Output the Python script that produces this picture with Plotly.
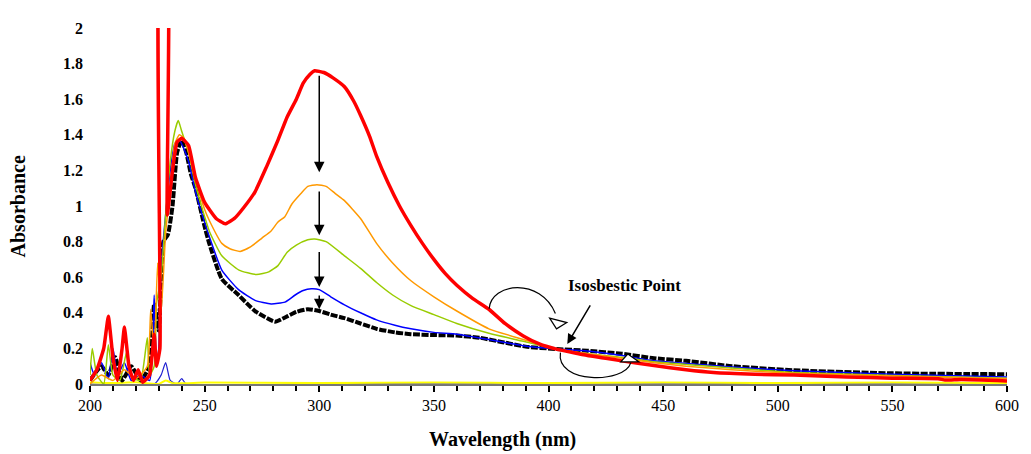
import plotly.graph_objects as go

# ---------------- data (wavelength nm, absorbance) ----------------
red_wl = [200, 203, 206, 208, 210, 212, 214, 215, 217, 219, 221, 223, 226, 228, 229, 230.5, 230.7, 233.5, 233.7,
          236, 238, 240, 243, 246, 250, 255, 259, 263, 267, 272, 277, 282, 286, 290, 293, 296, 298, 302, 306, 311,
          315, 318, 322, 325, 330, 335, 340, 345, 350, 355, 360, 367, 374, 381, 389, 396, 403, 410, 417, 425, 432,
          446, 460, 472, 490, 507, 530, 550, 570, 573, 580, 600]
red_ab = [0.02, 0.08, 0.2, 0.38, 0.15, 0.02, 0.2, 0.32, 0.1, 0.02, 0.08, 0.01, 0.05, 0.28, 0.1, 0.2, 2.6, 2.6, 0.95,
          1.2, 1.36, 1.38, 1.34, 1.16, 1.02, 0.93, 0.90, 0.93, 0.99, 1.08, 1.22, 1.37, 1.50, 1.60, 1.69, 1.74, 1.76,
          1.75, 1.72, 1.67, 1.59, 1.51, 1.39, 1.28, 1.13, 1.00, 0.89, 0.79, 0.70, 0.62, 0.555, 0.48, 0.42, 0.34,
          0.27, 0.225, 0.197, 0.178, 0.16, 0.145, 0.13, 0.104, 0.08, 0.065, 0.055, 0.05, 0.04, 0.033, 0.03, 0.022,
          0.025, 0.017]

orange_wl = [200, 205, 210, 215, 220, 225, 226.5, 228, 229.5, 231, 233, 235, 237, 239, 241, 243, 246, 250, 252,
             257.5, 261, 265.5, 270, 275, 279, 282, 285, 288, 292, 295, 299, 303, 307, 311, 318, 325, 332, 340, 350,
             360, 374, 389, 403, 417, 432, 446, 460, 480, 507, 550, 600]
orange_ab = [0.0, 0.05, 0.02, 0.08, 0.03, 0.1, 0.42, 0.15, 0.68, 0.4, 0.85, 1.1, 1.35, 1.4, 1.38, 1.3, 1.15, 0.98,
             0.92, 0.79, 0.76, 0.745, 0.77, 0.82, 0.86, 0.91, 0.94, 1.01, 1.07, 1.11, 1.12, 1.11, 1.07, 1.03, 0.93,
             0.79, 0.68, 0.58, 0.49, 0.41, 0.31, 0.25, 0.197, 0.17, 0.145, 0.12, 0.1, 0.08, 0.06, 0.045, 0.03]

green_wl = [200, 201, 203, 206, 208, 210, 213, 216, 218, 222, 225, 226, 228, 229, 231, 233, 235, 237, 238.5, 240,
            243, 246, 250, 252, 257.5, 265, 272.6, 278, 282, 286, 290, 295, 298, 303, 311, 318, 325, 332, 340, 350,
            360, 374, 389, 403, 417, 432, 446, 460, 480, 507, 550, 600]
green_ab = [0.05, 0.2, 0.05, 0.0, 0.22, 0.05, 0.02, 0.18, 0.04, 0.02, 0.26, 0.05, 0.1, 0.45, 0.6, 0.95, 1.25, 1.42,
            1.48, 1.42, 1.3, 1.12, 0.94, 0.86, 0.72, 0.64, 0.615, 0.63, 0.665, 0.74, 0.78, 0.81, 0.815, 0.80, 0.72,
            0.65, 0.57, 0.5, 0.44, 0.39, 0.34, 0.285, 0.24, 0.197, 0.17, 0.15, 0.125, 0.11, 0.09, 0.065, 0.048,
            0.033]

blue_wl = [200, 202, 205, 208, 210, 212, 215, 218, 222, 226, 228, 229, 230, 231, 233, 235, 237, 239, 241, 243, 246,
           249.7, 252, 257.5, 264.8, 272, 279, 285, 289.5, 293, 296.5, 300, 305, 311, 318, 325, 333, 340, 350, 360,
           374, 389, 403, 417, 432, 446, 460, 480, 507, 550, 600]
blue_ab = [0.12, 0.05, 0.12, 0.03, 0.2, 0.05, 0.12, 0.02, 0.05, 0.02, 0.5, 0.1, 0.2, 0.65, 0.95, 1.2, 1.35, 1.37,
           1.32, 1.25, 1.08, 0.92, 0.83, 0.64, 0.53, 0.47, 0.45, 0.46, 0.50, 0.525, 0.535, 0.53, 0.49, 0.445, 0.4,
           0.36, 0.33, 0.31, 0.29, 0.28, 0.25, 0.215, 0.197, 0.185, 0.16, 0.13, 0.115, 0.095, 0.075, 0.055, 0.04]

black_wl = [200, 205, 208, 211, 214, 218, 222, 226, 228, 230, 232, 234, 236, 238, 240, 242, 244, 246, 249.7, 252,
            257.5, 264.8, 272, 280.7, 286, 290, 295, 300, 305, 311, 318, 325, 333, 340, 350, 360, 370, 380, 390,
            403, 417, 432, 446, 460, 480, 507, 550, 600]
black_ab = [0.02, 0.1, 0.05, 0.15, 0.02, 0.1, 0.02, 0.1, 0.45, 0.3, 0.8, 0.84, 1.0, 1.3, 1.37, 1.3, 1.18, 1.1, 0.90,
            0.79, 0.59, 0.5, 0.41, 0.35, 0.38, 0.405, 0.42, 0.41, 0.39, 0.37, 0.34, 0.31, 0.29, 0.28, 0.275, 0.272,
            0.26, 0.235, 0.21, 0.197, 0.187, 0.17, 0.145, 0.13, 0.1, 0.077, 0.06, 0.055]

base_wl = [200, 228, 231, 233, 235, 238, 240, 242, 300, 400, 500, 600]
base_ab = [0.0, 0.0, 0.05, 0.12, 0.02, 0.0, 0.03, 0.0, 0.002, 0.0, 0.002, 0.0]

yellow_wl = [200, 210, 220, 230, 233, 236, 250, 300, 350, 400, 450, 500, 550, 600]
yellow_ab = [0.01, 0.005, 0.01, 0.0, 0.02, 0.005, 0.008, 0.005, 0.008, 0.005, 0.008, 0.005, 0.008, 0.005]

# arrows: (wavelength, tail absorbance, head absorbance)
arrow_x = 300
arrow_tails = [1.74, 1.09, 0.75, 0.505]
arrow_heads = [1.19, 0.835, 0.545, 0.42]

x_ticks = [200, 250, 300, 350, 400, 450, 500, 550, 600]

FONT = "Liberation Serif, Times New Roman, Times, serif"

fig = go.Figure()


def add_line(x, y, color, width, dash="solid", smooth=0.5):
    fig.add_trace(go.Scatter(x=x, y=y, mode="lines",
                             line=dict(color=color, width=width, dash=dash, shape="spline", smoothing=smooth)))


add_line(base_wl, base_ab, "#1f1fd0", 1.2)
add_line(yellow_wl, yellow_ab, "#FFFF00", 2)
add_line(black_wl, black_ab, "black", 4, "7px,1.5px")
add_line(blue_wl, blue_ab, "#0000FF", 1.5)
add_line(green_wl, green_ab, "#99CC00", 1.5)
add_line(orange_wl, orange_ab, "#FF9900", 1.5)
fig.add_trace(go.Scatter(x=red_wl, y=red_ab, mode="lines",
                         line=dict(color="#FF0000", width=3.5, shape="spline", smoothing=0.4)))

annotations = []
for t, h in zip(arrow_tails, arrow_heads):
    annotations.append(dict(x=arrow_x, y=h, ax=arrow_x, ay=t, xref="x", yref="y", axref="x", ayref="y",
                            text="", showarrow=True, arrowhead=2, arrowsize=1.4, arrowwidth=1.5,
                            arrowcolor="black"))
# isosbestic annotation
annotations.append(dict(x=408.2, y=0.225, ax=418.6, ay=0.45, xref="x", yref="y", axref="x", ayref="y",
                        text="", showarrow=True, arrowhead=2, arrowsize=1.3, arrowwidth=1.5, arrowcolor="black"))
annotations.append(dict(x=433.3, y=0.555, xref="x", yref="y", text="<b>Isosbestic Point</b>", showarrow=False,
                        font=dict(family=FONT, size=17, color="black")))
# axis titles
annotations.append(dict(x=(507 - 90) / (1016 - 90), y=-0.155, xref="paper", yref="paper", yanchor="middle",
                        text="<b>Wavelength (nm)</b>", showarrow=False,
                        font=dict(family=FONT, size=20, color="black")))
annotations.append(dict(x=-0.078, y=0.5, xref="paper", yref="paper", xanchor="center",
                        text="<b>Absorbance</b>", textangle=-90, showarrow=False,
                        font=dict(family=FONT, size=20, color="black")))

shapes = [
    # upper curved arrow
    dict(type="path", xref="x", yref="y", path="M 374.1,0.423 C 375.0,0.571 396.5,0.599 403.0,0.396",
         line=dict(color="black", width=1.2)),
    dict(type="path", xref="x", yref="y", path="M 400.5,0.37 L 408.0,0.345 L 403.5,0.31 Z",
         line=dict(color="black", width=1.2), fillcolor="white"),
    # lower curved arrow
    dict(type="path", xref="x", yref="y", path="M 405.2,0.176 C 403.0,0.0 433.3,0.0 435.9,0.12",
         line=dict(color="black", width=1.2)),
    dict(type="path", xref="x", yref="y", path="M 431.5,0.124 L 434.6,0.168 L 439.5,0.124 Z",
         line=dict(color="black", width=1.2), fillcolor="white"),
]

# the page body has an 8px margin; size the figure so the plot area lands where the reference has it
fig.update_layout(
    width=1023, height=446,
    margin=dict(l=82, r=15, t=13, b=70),
    plot_bgcolor="white", paper_bgcolor="white",
    showlegend=False,
    annotations=annotations,
    shapes=shapes,
    xaxis=dict(range=[200, 600], tickvals=x_ticks, ticks="outside", ticklen=6, tickwidth=2, tickcolor="black",
               showgrid=False, zeroline=False, showline=True, linecolor="#777777", linewidth=1.5,
               minor=dict(dtick=10, tick0=200, ticks="outside", ticklen=5, tickwidth=2, tickcolor="black",
                          showgrid=False),
               tickfont=dict(family=FONT, size=16, color="black")),
    yaxis=dict(range=[0, 2], dtick=0.2, tick0=0, ticks="", showgrid=False, zeroline=False, showline=False,
               ticklabelstandoff=6,
               tickfont=dict(family=FONT, size=16, color="black")),
)
fig.update_xaxes(tickprefix="<b>", ticksuffix="</b>")
fig.update_yaxes(tickprefix="<b>", ticksuffix="</b>")

fig.write_html("out.html")
